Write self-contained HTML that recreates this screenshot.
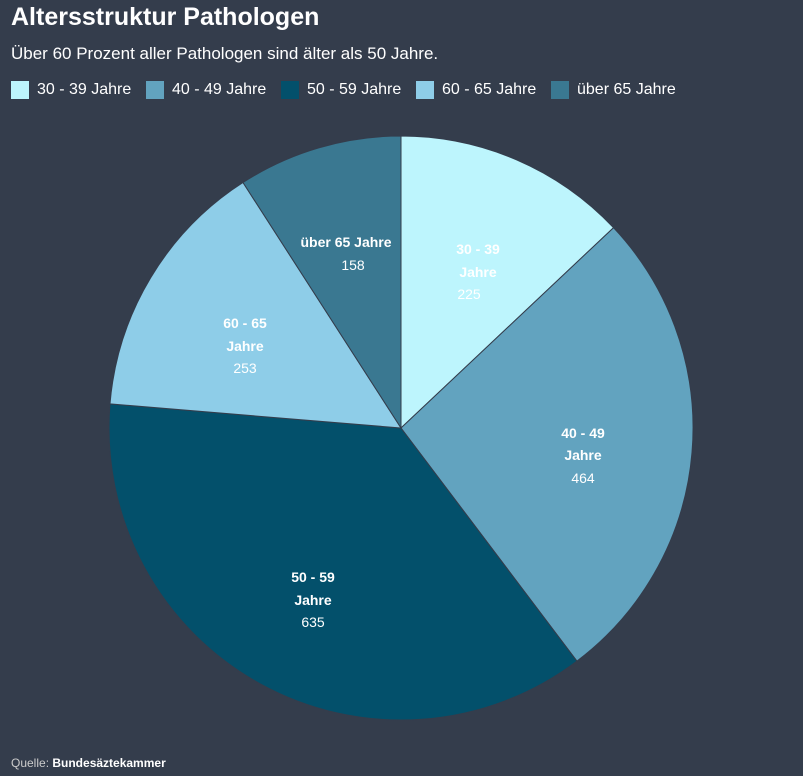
<!DOCTYPE html>
<html><head><meta charset="utf-8"><style>
body{margin:0;width:803px;height:776px;background:#343d4c;font-family:"Liberation Sans",sans-serif;color:#fff;overflow:hidden;position:relative}
.t{position:absolute;left:11px;top:3px;font-size:25px;font-weight:bold}
.s{position:absolute;left:11px;top:44px;font-size:17px}
.lg{position:absolute;top:81px;font-size:16px;display:flex;align-items:center}
.lg i{display:inline-block;width:18px;height:18px;margin-right:8px}
.q{position:absolute;left:11px;top:756px;font-size:12px;color:#ccc}
</style></head><body>
<div class="t">Altersstruktur Pathologen</div>
<div class="s">Über 60 Prozent aller Pathologen sind älter als 50 Jahre.</div>
<div class="lg" style="left:11px"><i style="background:#bdf5fd"></i>30 - 39 Jahre</div>
<div class="lg" style="left:146px"><i style="background:#62a3bf"></i>40 - 49 Jahre</div>
<div class="lg" style="left:281px"><i style="background:#03506b"></i>50 - 59 Jahre</div>
<div class="lg" style="left:416px"><i style="background:#8ecde8"></i>60 - 65 Jahre</div>
<div class="lg" style="left:551px"><i style="background:#3a7891"></i>über 65 Jahre</div>
<svg width="803" height="776" style="position:absolute;left:0;top:0" font-family="Liberation Sans, sans-serif" font-size="14" fill="#fff" text-anchor="middle">
<g stroke="#343d4c" stroke-width="1">
<path d="M401,428 L401,136 A292,292 0 0 1 613.5,227.7 Z" fill="#bdf5fd"/>
<path d="M401,428 L613.5,227.7 A292,292 0 0 1 576.9,661.1 Z" fill="#62a3bf"/>
<path d="M401,428 L576.9,661.1 A292,292 0 0 1 110,403.9 Z" fill="#03506b"/>
<path d="M401,428 L110,403.9 A292,292 0 0 1 243,182.5 Z" fill="#8ecde8"/>
<path d="M401,428 L243,182.5 A292,292 0 0 1 401,136 Z" fill="#3a7891"/>
</g>
<g font-weight="bold"><text x="478" y="254">30 - 39</text><text x="478" y="277">Jahre</text></g><text x="469" y="299">225</text>
<g font-weight="bold"><text x="583" y="438">40 - 49</text><text x="583" y="460">Jahre</text></g><text x="583" y="483">464</text>
<g font-weight="bold"><text x="313" y="582">50 - 59</text><text x="313" y="605">Jahre</text></g><text x="313" y="627">635</text>
<g font-weight="bold"><text x="245" y="328">60 - 65</text><text x="245" y="351">Jahre</text></g><text x="245" y="373">253</text>
<g font-weight="bold"><text x="346" y="247">über 65 Jahre</text></g><text x="353" y="270">158</text>
</svg>
<div class="q">Quelle: <b style="color:#fff">Bundesäztekammer</b></div>
</body></html>
